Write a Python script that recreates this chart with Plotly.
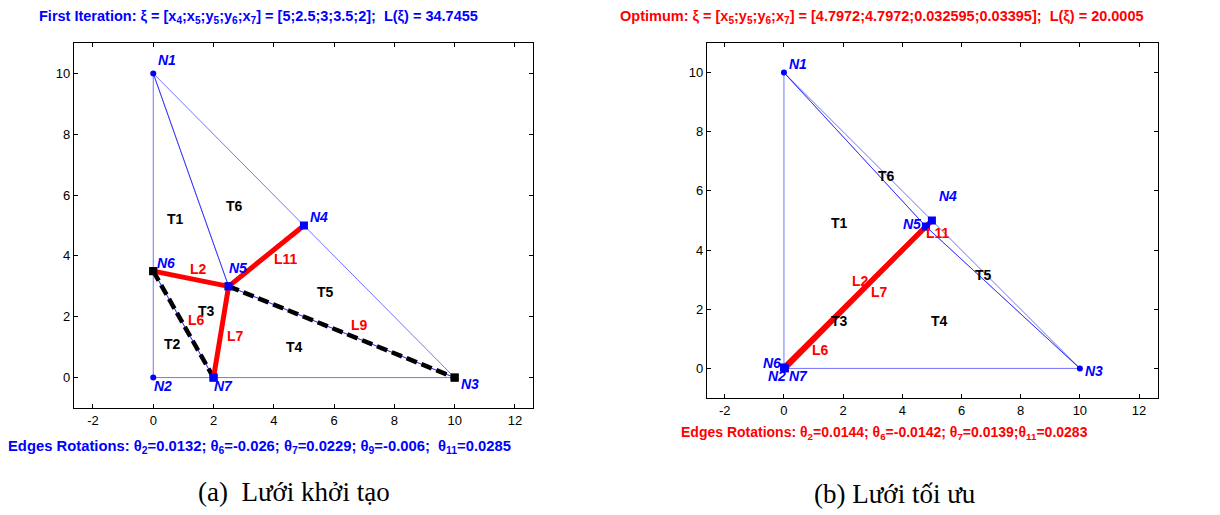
import plotly.graph_objects as go

# ---------------- data ----------------
node_names = ["N1", "N2", "N3", "N4", "N5", "N6", "N7"]
nodes_init_x = [0, 0, 10, 5, 2.5, 0, 2]
nodes_init_y = [10, 0, 0, 5, 3, 3.5, 0]
nodes_opt_x = [0, 0, 10, 5, 4.7972, 0, 0.03395]
nodes_opt_y = [10, 0, 0, 5, 4.7972, 0.032595, 0]

triangles = {"T1": ["N1", "N6", "N5"], "T2": ["N6", "N2", "N7"], "T3": ["N6", "N7", "N5"],
             "T4": ["N7", "N3", "N5"], "T5": ["N5", "N3", "N4"], "T6": ["N1", "N5", "N4"]}
edges = {"L2": ["N6", "N5"], "L6": ["N6", "N7"], "L7": ["N7", "N5"], "L9": ["N5", "N3"], "L11": ["N5", "N4"]}

init_red_edges = ["L2", "L7", "L11"]
init_dash_edges = ["L6", "L9"]
opt_red_edges = ["L2", "L6", "L7", "L11"]

# label anchor positions (data coords)
init_node_lbl = {"N1": (0.45, 10.45), "N2": (0.33, -0.27), "N3": (10.5, -0.2), "N4": (5.5, 5.28),
                 "N5": (2.8, 3.6), "N6": (0.43, 3.78), "N7": (2.33, -0.27)}
init_tri_lbl = {"T1": (0.73, 5.2), "T2": (0.63, 1.1), "T3": (1.77, 2.2), "T4": (4.7, 1.0),
                "T5": (5.7, 2.8), "T6": (2.7, 5.64)}
init_edge_lbl = {"L2": (1.5, 3.57), "L6": (1.43, 1.9), "L7": (2.73, 1.38), "L9": (6.85, 1.74),
                 "L11": (4.4, 3.9)}
opt_node_lbl = {"N1": (0.46, 10.28), "N2": (-0.25, -0.25), "N3": (10.49, -0.09), "N4": (5.55, 5.82),
                "N5": (4.32, 4.89), "N6": (-0.4, 0.17), "N7": (0.48, -0.25)}
opt_tri_lbl = {"T1": (1.89, 4.92), "T3": (1.89, 1.6), "T4": (5.24, 1.6), "T5": (6.76, 3.15),
               "T6": (3.47, 6.52)}
opt_edge_lbl = {"L2": (2.57, 2.94), "L6": (1.24, 0.62), "L7": (3.22, 2.58), "L11": (5.22, 4.58)}

title_a = ("<b>First Iteration: ξ = [x<sub>4</sub>;x<sub>5</sub>;y<sub>5</sub>;y<sub>6</sub>;x<sub>7</sub>]"
           " = [5;2.5;3;3.5;2];  L(ξ) = 34.7455</b>")
title_b = ("<b>Optimum: ξ = [x<sub>5</sub>;y<sub>5</sub>;y<sub>6</sub>;x<sub>7</sub>]"
           " = [4.7972;4.7972;0.032595;0.03395];  L(ξ) = 20.0005</b>")
foot_a = ("<b>Edges Rotations: θ<sub>2</sub>=0.0132; θ<sub>6</sub>=-0.026; θ<sub>7</sub>=0.0229; "
          "θ<sub>9</sub>=-0.006;  θ<sub>11</sub>=0.0285</b>")
foot_b = ("<b>Edges Rotations: θ<sub>2</sub>=0.0144; θ<sub>6</sub>=-0.0142; θ<sub>7</sub>=0.0139;"
          "θ<sub>11</sub>=0.0283</b>")
caption_a = "(a)  Lưới khởi tạo"
caption_b = "(b) Lưới tối ưu"

x_ticks = [-2, 0, 2, 4, 6, 8, 10, 12]
x_tick_text = ["-2", "0", "2", "4", "6", "8", "10", "12"]
y_ticks = [0, 2, 4, 6, 8, 10]
y_tick_text = ["0", "2", "4", "6", "8", "10"]

# ---------------- figure ----------------
fig = go.Figure()
BLUE = "#0000ff"


def add_mesh(xs, ys, xa, ya, red_edges, dash_edges, sq_blue, sq_black, dots,
             node_lbl, tri_lbl, edge_lbl):
    P = {n: (x, y) for n, x, y in zip(node_names, xs, ys)}
    for t, tri in triangles.items():
        pts = tri + [tri[0]]
        fig.add_trace(go.Scatter(x=[P[p][0] for p in pts], y=[P[p][1] for p in pts],
                                 mode="lines", line=dict(color="rgba(0,0,255,0.55)", width=1),
                                 xaxis=xa, yaxis=ya, showlegend=False, hoverinfo="skip"))
    for e in dash_edges:
        a, b = edges[e]
        fig.add_trace(go.Scatter(x=[P[a][0], P[b][0]], y=[P[a][1], P[b][1]], mode="lines+markers",
                                 line=dict(color="black", width=4.5, dash="11px,5px"),
                                 marker=dict(symbol="square", size=8, color="black"),
                                 xaxis=xa, yaxis=ya, showlegend=False, hoverinfo="skip"))
    for e in red_edges:
        a, b = edges[e]
        fig.add_trace(go.Scatter(x=[P[a][0], P[b][0]], y=[P[a][1], P[b][1]], mode="lines",
                                 line=dict(color="#ff0000", width=5),
                                 xaxis=xa, yaxis=ya, showlegend=False, hoverinfo="skip"))
    if sq_black:
        fig.add_trace(go.Scatter(x=[P[n][0] for n in sq_black], y=[P[n][1] for n in sq_black],
                                 mode="markers", marker=dict(symbol="square", size=8, color="black"),
                                 xaxis=xa, yaxis=ya, showlegend=False, hoverinfo="skip"))
    fig.add_trace(go.Scatter(x=[P[n][0] for n in sq_blue], y=[P[n][1] for n in sq_blue],
                             mode="markers", marker=dict(symbol="square", size=8, color=BLUE),
                             xaxis=xa, yaxis=ya, showlegend=False, hoverinfo="skip"))
    fig.add_trace(go.Scatter(x=[P[n][0] for n in dots], y=[P[n][1] for n in dots],
                             mode="markers", marker=dict(symbol="circle", size=6, color=BLUE),
                             xaxis=xa, yaxis=ya, showlegend=False, hoverinfo="skip"))
    for n, (x, y) in node_lbl.items():
        fig.add_annotation(x=x, y=y, xref=xa, yref=ya, text=f"<b><i>{n}</i></b>", showarrow=False,
                           font=dict(family="Arial", size=14, color=BLUE))
    for n, (x, y) in tri_lbl.items():
        fig.add_annotation(x=x, y=y, xref=xa, yref=ya, text=f"<b>{n}</b>", showarrow=False,
                           font=dict(family="Arial", size=14, color="black"))
    for n, (x, y) in edge_lbl.items():
        fig.add_annotation(x=x, y=y, xref=xa, yref=ya, text=f"<b>{n}</b>", showarrow=False,
                           font=dict(family="Arial", size=14, color="#ff0000"))


add_mesh(nodes_init_x, nodes_init_y, "x", "y", init_red_edges, init_dash_edges,
         ["N4", "N5", "N7"], ["N6", "N3"], ["N1", "N2"], init_node_lbl, init_tri_lbl, init_edge_lbl)
add_mesh(nodes_opt_x, nodes_opt_y, "x2", "y2", opt_red_edges, [],
         ["N4", "N5", "N6", "N7"], [], ["N1", "N2", "N3"], opt_node_lbl, opt_tri_lbl, opt_edge_lbl)

ax_common = dict(showgrid=False, zeroline=False, showline=True, linecolor="black", linewidth=1.3,
                 mirror="allticks", ticks="inside", ticklen=4, tickcolor="black",
                 tickfont=dict(family="Arial", size=13, color="black"))

W, H = 1220, 515
fig.update_layout(
    width=W, height=H, margin=dict(l=0, r=0, t=0, b=0),
    paper_bgcolor="white", plot_bgcolor="white",
    xaxis=dict(domain=[74 / W, 533 / W], range=[-2.63, 12.6], tickvals=x_ticks, ticktext=x_tick_text,
               anchor="y", **ax_common),
    yaxis=dict(domain=[1 - 408 / H, 1 - 43 / H], range=[-1, 11], tickvals=y_ticks, ticktext=y_tick_text,
               anchor="x", **ax_common),
    xaxis2=dict(domain=[707 / W, 1158 / W], range=[-2.6, 12.64], tickvals=x_ticks, ticktext=x_tick_text,
                anchor="y2", **ax_common),
    yaxis2=dict(domain=[1 - 398 / H, 1 - 43 / H], range=[-1, 11], tickvals=y_ticks, ticktext=y_tick_text,
                anchor="x2", **ax_common),
)

texts = [
    (title_a, 258, 17, BLUE, "Arial", 14.5),
    (title_b, 882, 17, "#ff0000", "Arial", 14.5),
    (foot_a, 259, 447, BLUE, "Arial", 14.8),
    (foot_b, 884, 433, "#ff0000", "Arial", 14),
    (caption_a, 294, 492, "black", "Liberation Serif", 27),
    (caption_b, 895, 494, "black", "Liberation Serif", 27),
]
for t, px, py, c, fam, sz in texts:
    fig.add_annotation(x=px / W, y=1 - py / H, xref="paper", yref="paper", text=t, showarrow=False,
                       xanchor="center", yanchor="middle", font=dict(family=fam, size=sz, color=c))

fig.write_html("out.html")
